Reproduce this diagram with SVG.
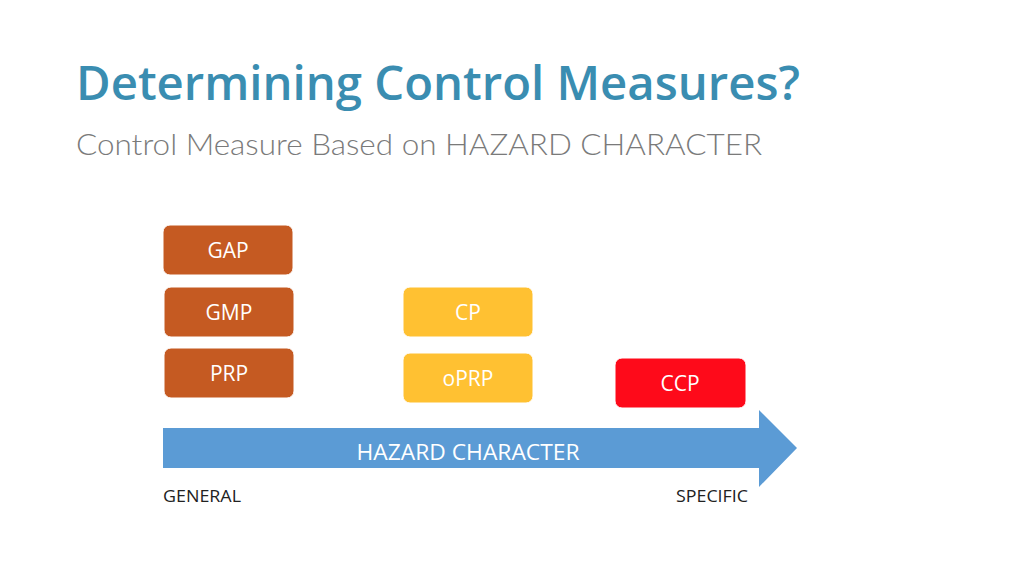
<svg xmlns="http://www.w3.org/2000/svg" width="1030" height="578" viewBox="0 0 1030 578">
<style>
.box{stroke:#ffffff;stroke-width:1}
.brown{fill:#C55A22}
.yellow{fill:#FFC132}
.red{fill:#FE0A1A}
.lbl{font-family:"Open Sans","Noto Sans",sans-serif;font-size:21px;fill:#ffffff;text-anchor:middle}
.axis{font-family:"Open Sans","Noto Sans",sans-serif;font-size:16px;fill:#222222}
</style>
<rect width="1030" height="578" fill="#ffffff"/>
<text x="76" y="100" font-family="'Open Sans',Lato,sans-serif" font-size="47" font-weight="600" fill="#3A8DB1" textLength="724" lengthAdjust="spacingAndGlyphs">Determining Control Measures?</text>
<text x="76" y="155" font-family="Lato,'Open Sans',sans-serif" font-size="29" font-weight="300" fill="#7A7A7A" textLength="686" lengthAdjust="spacingAndGlyphs">Control Measure Based on HAZARD CHARACTER</text>
<g id="connectors">
<polygon points="163,428 759,428 759,410 797,448 759,487 759,468 163,468" fill="#5B9BD5"/>
<text x="468" y="460" class="lbl" font-size="21" textLength="223" lengthAdjust="spacingAndGlyphs">HAZARD CHARACTER</text>
</g>
<g id="gap"><rect class="box brown" x="163" y="225" width="130" height="50" rx="7"/><text class="lbl" x="228" y="258">GAP</text></g>
<g id="gmp"><rect class="box brown" x="164" y="287" width="130" height="50" rx="7"/><text class="lbl" x="229" y="320">GMP</text></g>
<g id="prp"><rect class="box brown" x="164" y="348" width="130" height="50" rx="7"/><text class="lbl" x="229" y="381">PRP</text></g>
<g id="cp"><rect class="box yellow" x="403" y="287" width="130" height="50" rx="7"/><text class="lbl" x="468" y="320">CP</text></g>
<g id="oprp"><rect class="box yellow" x="403" y="353" width="130" height="50" rx="7"/><text class="lbl" x="468" y="386">oPRP</text></g>
<g id="ccp"><rect class="box red" x="615" y="358" width="131" height="50" rx="7"/><text class="lbl" x="680" y="391">CCP</text></g>
<text class="axis" x="163" y="502" textLength="78" lengthAdjust="spacingAndGlyphs">GENERAL</text>
<text class="axis" x="676" y="502" textLength="72" lengthAdjust="spacingAndGlyphs">SPECIFIC</text>
</svg>
